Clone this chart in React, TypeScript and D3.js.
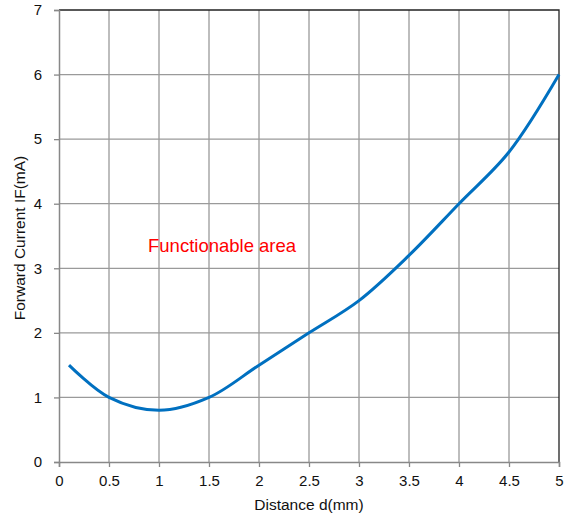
import React, { useEffect, useRef } from "react"
import * as d3 from "d3"

const distance = [0.1, 0.5, 1, 1.5, 2, 2.5, 3, 3.5, 4, 4.5, 5]
const current = [1.5, 1.0, 0.8, 1.0, 1.5, 2.0, 2.5, 3.2, 4.0, 4.8, 6.0]
const xTicks = [0, 0.5, 1, 1.5, 2, 2.5, 3, 3.5, 4, 4.5, 5]
const yTicks = [0, 1, 2, 3, 4, 5, 6, 7]

export default function App() {
  const svgRef = useRef<SVGSVGElement>(null)

  useEffect(() => {
    const svg = d3.select(svgRef.current)
    svg.selectAll("*").remove()

    const W = 572, H = 515
    const M = { left: 59, right: 13, top: 10, bottom: 53 }

    const x = d3.scaleLinear().domain([0, 5]).range([M.left, W - M.right])
    const y = d3.scaleLinear().domain([0, 7]).range([H - M.bottom, M.top])

    const font = "'Liberation Sans', Arial, sans-serif"
    const grid = "#9a9a9a"

    // grid
    svg.append("g").selectAll("line").data(xTicks.slice(1, -1)).enter().append("line")
      .attr("x1", d => x(d)).attr("x2", d => x(d))
      .attr("y1", y(0)).attr("y2", y(7))
      .attr("stroke", grid).attr("stroke-width", 1.3)
    svg.append("g").selectAll("line").data(yTicks.slice(1, -1)).enter().append("line")
      .attr("x1", x(0)).attr("x2", x(5))
      .attr("y1", d => y(d)).attr("y2", d => y(d))
      .attr("stroke", grid).attr("stroke-width", 1.3)

    // top + right border
    svg.append("path")
      .attr("d", `M${x(0)},${y(7)}H${x(5)}V${y(0)}`)
      .attr("fill", "none").attr("stroke", "#222").attr("stroke-width", 1.3)

    // axes
    const xAxis = svg.append("g").attr("transform", `translate(0,${y(0)})`)
      .call(d3.axisBottom(x).tickValues(xTicks).tickSize(5).tickPadding(8).tickFormat(d3.format("")))
    const yAxis = svg.append("g").attr("transform", `translate(${x(0)},0)`)
      .call(d3.axisLeft(y).tickValues(yTicks).tickSize(5).tickPadding(12).tickFormat(d3.format("")))
    for (const ax of [xAxis, yAxis]) {
      ax.select(".domain").attr("stroke", "#888").attr("stroke-width", 1.5)
      ax.selectAll(".tick line").attr("stroke", "#888").attr("stroke-width", 1.3)
      ax.selectAll("text").attr("font-family", font).attr("font-size", 15).attr("fill", "#111")
    }

    // curve
    const line = d3.line<number>()
      .x((_, i) => x(distance[i]))
      .y(d => y(d))
      .curve(d3.curveCatmullRom.alpha(0.5))
    svg.append("path").datum(current)
      .attr("d", line)
      .attr("fill", "none").attr("stroke", "#0070c0").attr("stroke-width", 3)

    // titles
    svg.append("text").attr("x", 309).attr("y", 510)
      .attr("text-anchor", "middle").attr("font-family", font).attr("font-size", 15.5)
      .attr("fill", "#111")
      .text("Distance d(mm)")
    svg.append("text")
      .attr("transform", `translate(25,238) rotate(-90)`)
      .attr("text-anchor", "middle").attr("font-family", font).attr("font-size", 15.5)
      .attr("fill", "#111")
      .text("Forward Current IF(mA)")
    svg.append("text").attr("x", 148).attr("y", 252)
      .attr("font-family", font).attr("font-size", 18.5).attr("fill", "#ff0000")
      .text("Functionable area")
  }, [])

  return (
    <svg ref={svgRef} width={572} height={515}
      style={{ position: "absolute", left: 0, top: 0, background: "#fff" }} />
  )
}
